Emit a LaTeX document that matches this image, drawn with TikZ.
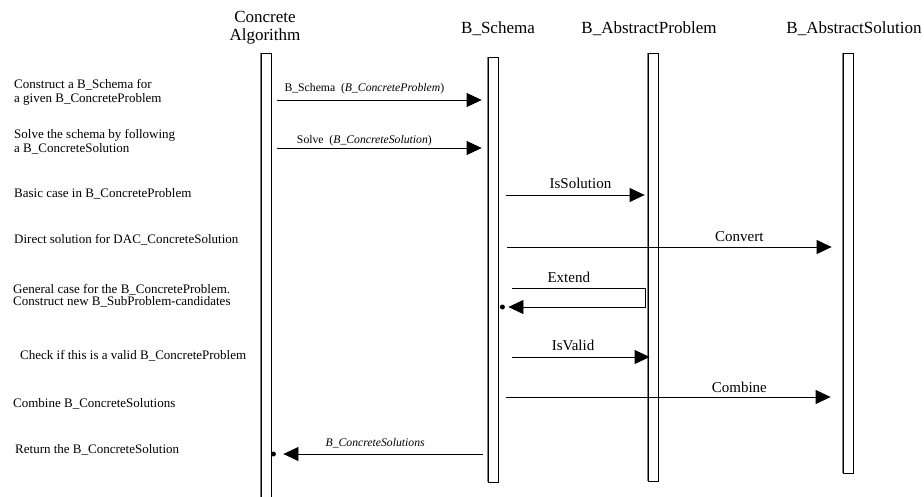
\documentclass[tikz,border=0pt]{standalone}
\usepackage{fontspec}
\setmainfont{Liberation Serif}
\usetikzlibrary{arrows.meta,calc}
\tikzset{
  bar/.style={draw, line width=0.8pt, fill=white, minimum width=10pt, inner sep=0pt},
  edge/.style={gray, line width=1.6pt},
  msg/.style={line width=0.8pt, -{Triangle[length=15pt,width=14pt]}},
  head/.style={font=\fontsize{17}{18}\selectfont, anchor=base, align=center, inner sep=0pt},
  note/.style={font=\fontsize{13}{14}\selectfont, anchor=base west, align=left, inner sep=0pt},
  lbl/.style={font=\fontsize{15}{16}\selectfont, anchor=base, inner sep=0pt},
  small/.style={font=\fontsize{11.7}{12}\selectfont, anchor=base, inner sep=0pt},
}
\begin{document}
\begin{tikzpicture}[x=1pt,y=-1pt]
  \useasboundingbox (0,0) rectangle (924,496);
  % headers
  \node[head] (ca) at (265,40) {Concrete\\Algorithm};
  \node[head] (bs) at (498,33) {B\_Schema};
  \node[head] (ap) at (649,33) {B\_AbstractProblem};
  \node[head] (as) at (854,33) {B\_AbstractSolution};
  % lifelines
  \node[bar, minimum height=447pt] (CA) at (266,276.5) {};
  \node[bar, minimum height=425pt] (BS) at (493,269.5) {};
  \node[bar, minimum height=428pt] (AP) at (653,267) {};
  \node[bar, minimum height=420pt] (AS) at (848,263) {};
  \foreach \b in {CA,BS,AP,AS}
    \draw[edge] (\b.north west) -- (\b.south west);
  % rows
  \coordinate (R1) at (0,100);
  \coordinate (R2) at (0,148);
  \coordinate (R3) at (0,195);
  \coordinate (R4) at (0,247);
  \coordinate (E1) at (645,288);
  \coordinate (E2) at (645,307);
  \coordinate (R6) at (0,357);
  \coordinate (R7) at (0,397);
  \coordinate (R8) at (0,454);
  % notes
  \node[note] (n1) at (14,102) {Construct a B\_Schema for\\a given B\_ConcreteProblem};
  \node[note] (n2) at (14,152) {Solve the schema by following\\a B\_ConcreteSolution};
  \node[note] (n3) at (14,197) {Basic case in B\_ConcreteProblem};
  \node[note] (n4) at (14,243) {Direct solution for DAC\_ConcreteSolution};
  \node[note] (n5) at (13,305) {General case for the B\_ConcreteProblem.\\[-2pt]Construct new B\_SubProblem-candidates};
  \node[note] (n6) at (20,359) {Check if this is a valid B\_ConcreteProblem};
  \node[note] (n7) at (13,407) {Combine B\_ConcreteSolutions};
  \node[note] (n8) at (15,453) {Return the B\_ConcreteSolution};
  % messages
  \draw[msg, shorten <=6pt, shorten >=6pt] (CA.east |- R1) -- (BS.west |- R1)
    node[small, pos=.43, yshift=9pt] (m1) {B\_Schema\ \ (\textit{B\_ConcreteProblem})};
  \draw[msg, shorten <=6pt, shorten >=6pt] (CA.east |- R2) -- (BS.west |- R2)
    node[small, pos=.43, yshift=5pt] (m2) {Solve\ \ (\textit{B\_ConcreteSolution})};
  \draw[msg, shorten <=8pt, shorten >=3pt] (BS.east |- R3) -- (AP.west |- R3)
    node[lbl, pos=.55, yshift=7pt] (m3) {IsSolution};
  \draw[msg, shorten <=9pt, shorten >=11pt] (BS.east |- R4) -- (AS.west |- R4)
    node[lbl, pos=.7, yshift=6pt] (m4) {Convert};
  \draw[msg, shorten <=14pt, shorten >=10pt] (BS.east |- E1) -- (E1)
    node[lbl, pos=.48, yshift=6pt] (m5) {Extend} -- (E2) -- (BS.east |- E2);
  \fill ($(BS.east |- E2)+(4,0)$) circle (2.5pt);
  \draw[msg, shorten <=14pt, shorten >=-2pt] (BS.east |- R6) -- (AP.west |- R6)
    node[lbl, pos=.5, yshift=7pt] (m6) {IsValid};
  \draw[msg, shorten <=8pt, shorten >=12pt] (BS.east |- R7) -- (AS.west |- R7)
    node[lbl, pos=.7, yshift=5pt] (m7) {Combine};
  \draw[msg, shorten <=5pt, shorten >=12pt] (BS.west |- R8) -- (CA.east |- R8)
    node[small, pos=.52, yshift=8pt] (m8) {\textit{B\_ConcreteSolutions}};
  \fill ($(CA.east |- R8)+(2,0)$) circle (2.5pt);
\end{tikzpicture}
\end{document}
